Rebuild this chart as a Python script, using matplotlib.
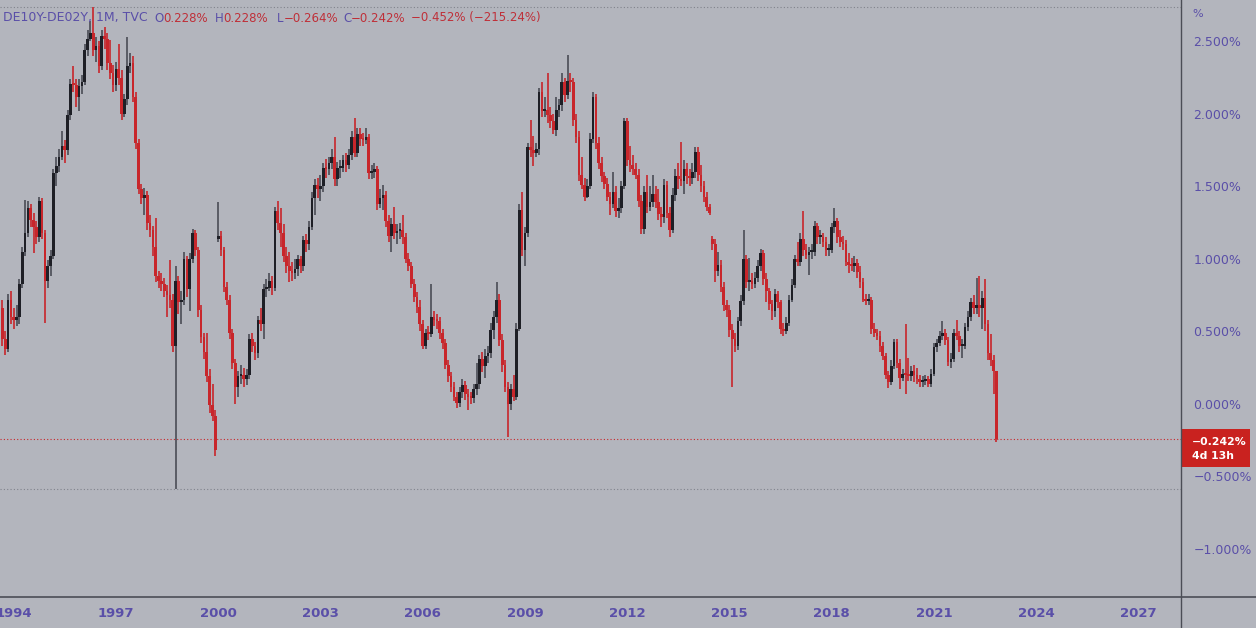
import numpy as np
import matplotlib
matplotlib.use("Agg")
import matplotlib.pyplot as plt
from matplotlib.patches import Rectangle
from matplotlib.lines import Line2D

# monthly candles, DE10Y-DE02Y spread in %, Sep 1993 .. Nov 2022
first_month = (1993, 9)
first_open = 0.66

closes = [
    0.45, 0.38, 0.72, 0.60,  # 1993 Sep-Dec
    0.58, 0.60, 0.83, 1.05, 1.18, 1.35, 1.27, 1.22, 1.15, 1.40, 1.18, 0.85,  # 1994
    0.95, 1.02, 1.59, 1.64, 1.70, 1.78, 1.75, 1.99, 2.21, 2.20, 2.12, 2.19,  # 1995
    2.22, 2.44, 2.52, 2.56, 2.44, 2.47, 2.33, 2.54, 2.52, 2.35, 2.28, 2.20,  # 1996
    2.31, 2.25, 2.00, 2.10, 2.33, 2.35, 2.12, 1.80, 1.48, 1.42, 1.44, 1.25,  # 1997
    1.20, 1.08, 0.88, 0.85, 0.83, 0.78, 0.75, 0.72, 0.40, 0.85, 0.70, 0.72,  # 1998
    1.00, 0.79, 1.00, 1.18, 1.06, 0.65, 0.46, 0.36, 0.19, -0.01, -0.08, -0.32,  # 1999
    1.16, 1.06, 0.81, 0.72, 0.49, 0.28, 0.12, 0.19, 0.20, 0.17, 0.20, 0.45,  # 2000
    0.40, 0.35, 0.58, 0.55, 0.79, 0.80, 0.85, 0.80, 1.33, 1.25, 1.18, 1.02,  # 2001
    0.95, 0.92, 0.90, 0.93, 1.00, 0.95, 1.13, 1.10, 1.22, 1.42, 1.51, 1.48,  # 2002
    1.50, 1.63, 1.62, 1.66, 1.70, 1.55, 1.63, 1.63, 1.68, 1.65, 1.72, 1.84,  # 2003
    1.73, 1.86, 1.83, 1.82, 1.84, 1.59, 1.60, 1.62, 1.38, 1.42, 1.44, 1.26,  # 2004
    1.16, 1.24, 1.18, 1.19, 1.20, 1.15, 1.00, 0.95, 0.83, 0.74, 0.67, 0.55,  # 2005
    0.40, 0.49, 0.48, 0.60, 0.58, 0.57, 0.49, 0.42, 0.27, 0.19, 0.12, 0.05,  # 2006
    0.01, 0.08, 0.13, 0.07, 0.05, 0.04, 0.10, 0.14, 0.31, 0.26, 0.33, 0.35,  # 2007
    0.51, 0.60, 0.72, 0.44, 0.27, 0.12, 0.00, 0.10, 0.05, 0.52, 1.34, 1.06,  # 2008
    1.18, 1.77, 1.75, 1.73, 1.76, 2.15, 2.02, 2.03, 1.99, 1.95, 1.89, 2.03,  # 2009
    2.06, 2.22, 2.13, 2.23, 2.22, 1.96, 1.84, 1.58, 1.51, 1.43, 1.50, 1.83,  # 2010
    2.12, 1.80, 1.66, 1.57, 1.52, 1.43, 1.38, 1.46, 1.33, 1.35, 1.50, 1.95,  # 2011
    1.68, 1.65, 1.62, 1.58, 1.40, 1.21, 1.46, 1.36, 1.39, 1.45, 1.39, 1.31,  # 2012
    1.29, 1.51, 1.32, 1.20, 1.44, 1.57, 1.55, 1.54, 1.62, 1.57, 1.56, 1.60,  # 2013
    1.74, 1.58, 1.50, 1.43, 1.36, 1.32, 1.10, 0.92, 0.96, 0.81, 0.68, 0.65,  # 2014
    0.51, 0.45, 0.40, 0.57, 0.71, 1.00, 0.84, 0.85, 0.83, 0.87, 0.95, 1.04,  # 2015
    0.86, 0.78, 0.69, 0.64, 0.76, 0.70, 0.52, 0.50, 0.56, 0.72, 0.82, 1.00,  # 2016
    0.98, 1.14, 1.06, 1.03, 1.05, 1.05, 1.23, 1.15, 1.15, 1.12, 1.06, 1.06,  # 2017
    1.22, 1.26, 1.15, 1.12, 1.10, 0.98, 0.96, 0.95, 0.97, 0.91, 0.84, 0.72,  # 2018
    0.71, 0.72, 0.52, 0.49, 0.47, 0.40, 0.33, 0.20, 0.15, 0.26, 0.43, 0.28,  # 2019
    0.18, 0.21, 0.20, 0.19, 0.23, 0.20, 0.17, 0.15, 0.16, 0.17, 0.14, 0.21,  # 2020
    0.39, 0.42, 0.47, 0.49, 0.44, 0.29, 0.31, 0.49, 0.47, 0.40, 0.40, 0.53,  # 2021
    0.60, 0.70, 0.66, 0.68, 0.66, 0.73, 0.55, 0.35, 0.30, 0.228, -0.242,  # 2022
]

highs = [
    0.72, 0.50, 0.76, 0.78,
    0.66, 0.68, 0.86, 1.08, 1.41, 1.40, 1.38, 1.32, 1.26, 1.43, 1.42, 1.20,
    0.99, 1.06, 1.62, 1.70, 1.76, 1.88, 1.82, 2.03, 2.24, 2.33, 2.24, 2.24,
    2.27, 2.48, 2.58, 2.64, 2.74, 2.53, 2.50, 2.58, 2.60, 2.56, 2.51, 2.34,
    2.36, 2.48, 2.30, 2.14, 2.53, 2.42, 2.40, 2.15, 1.83, 1.52, 1.49, 1.47,
    1.30, 1.23, 1.28, 0.92, 0.90, 0.87, 0.82, 0.99, 0.76, 0.95, 0.88, 0.78,
    1.05, 1.02, 1.04, 1.21, 1.20, 1.08, 0.68, 0.49, 0.49, 0.24, 0.14, -0.04,
    1.39, 1.19, 1.08, 0.84, 0.75, 0.52, 0.31, 0.23, 0.27, 0.25, 0.24, 0.48,
    0.49, 0.43, 0.61, 0.66, 0.83, 0.86, 0.90, 0.88, 1.36, 1.40, 1.35, 1.24,
    1.08, 1.05, 0.98, 1.00, 1.03, 1.02, 1.16, 1.17, 1.26, 1.46, 1.55, 1.56,
    1.58, 1.66, 1.69, 1.70, 1.76, 1.84, 1.67, 1.68, 1.72, 1.73, 1.76, 1.88,
    1.97, 1.90, 1.90, 1.87, 1.90, 1.86, 1.65, 1.66, 1.64, 1.48, 1.51, 1.47,
    1.30, 1.28, 1.36, 1.24, 1.25, 1.30, 1.18, 1.04, 0.98, 0.86, 0.77, 0.72,
    0.58, 0.52, 0.54, 0.83, 0.64, 0.62, 0.60, 0.52, 0.45, 0.30, 0.22, 0.15,
    0.08, 0.12, 0.17, 0.16, 0.10, 0.08, 0.14, 0.28, 0.34, 0.36, 0.38, 0.40,
    0.56, 0.64, 0.84, 0.76, 0.48, 0.30, 0.15, 0.14, 0.20, 0.56, 1.38, 1.46,
    1.22, 1.80, 1.96, 1.85, 1.80, 2.18, 2.22, 2.12, 2.28, 2.05, 2.00, 2.12,
    2.10, 2.28, 2.25, 2.41, 2.28, 2.25, 2.00, 1.88, 1.70, 1.56, 1.55, 1.87,
    2.15, 2.14, 1.84, 1.70, 1.60, 1.56, 1.46, 1.60, 1.50, 1.42, 1.54, 1.97,
    1.97, 1.78, 1.72, 1.66, 1.62, 1.44, 1.50, 1.58, 1.50, 1.58, 1.50, 1.48,
    1.36, 1.55, 1.54, 1.36, 1.49, 1.62, 1.66, 1.81, 1.68, 1.66, 1.62, 1.66,
    1.77, 1.77, 1.65, 1.54, 1.46, 1.38, 1.16, 1.14, 1.05, 0.99, 0.84, 0.72,
    0.68, 0.55, 0.49, 0.60, 0.75, 1.20, 1.03, 1.01, 0.90, 0.91, 0.99, 1.07,
    1.06, 0.90, 0.80, 0.72, 0.79, 0.78, 0.72, 0.56, 0.60, 0.75, 0.86, 1.03,
    1.12, 1.18, 1.33, 1.10, 1.08, 1.10, 1.26, 1.25, 1.20, 1.18, 1.15, 1.10,
    1.25, 1.35, 1.28, 1.20, 1.16, 1.13, 1.04, 1.01, 1.02, 1.00, 0.95, 0.87,
    0.76, 0.76, 0.74, 0.56, 0.52, 0.50, 0.43, 0.35, 0.23, 0.30, 0.45, 0.45,
    0.31, 0.24, 0.55, 0.32, 0.26, 0.27, 0.25, 0.20, 0.19, 0.20, 0.19, 0.24,
    0.42, 0.45, 0.50, 0.57, 0.52, 0.46, 0.35, 0.52, 0.58, 0.50, 0.45, 0.56,
    0.64, 0.73, 0.75, 0.87, 0.88, 0.78, 0.86, 0.58, 0.48, 0.34, 0.228,
]

lows = [
    0.40, 0.34, 0.36, 0.55,
    0.52, 0.54, 0.55, 0.80, 1.02, 1.15, 1.22, 1.04, 1.10, 1.12, 1.14, 0.56,
    0.80, 0.88, 1.00, 1.50, 1.60, 1.68, 1.66, 1.72, 1.96, 2.15, 2.05, 2.02,
    2.14, 2.20, 2.40, 2.50, 2.40, 2.36, 2.28, 2.30, 2.45, 2.30, 2.24, 2.15,
    2.16, 2.20, 1.96, 1.98, 2.06, 2.28, 2.08, 1.76, 1.45, 1.38, 1.30, 1.20,
    1.15, 1.02, 0.84, 0.80, 0.78, 0.74, 0.60, 0.66, 0.36, -0.585, 0.62, 0.55,
    0.68, 0.74, 0.64, 0.97, 1.02, 0.60, 0.42, 0.31, 0.15, -0.06, -0.12, -0.36,
    1.12, 1.02, 0.77, 0.68, 0.45, 0.24, 0.00, 0.05, 0.14, 0.12, 0.13, 0.17,
    0.36, 0.30, 0.32, 0.50, 0.45, 0.74, 0.78, 0.75, 0.78, 1.20, 1.08, 0.98,
    0.90, 0.84, 0.85, 0.86, 0.88, 0.90, 0.92, 1.05, 1.06, 1.20, 1.30, 1.42,
    1.40, 1.46, 1.56, 1.58, 1.62, 1.50, 1.50, 1.56, 1.60, 1.60, 1.62, 1.68,
    1.70, 1.70, 1.78, 1.78, 1.79, 1.55, 1.55, 1.56, 1.34, 1.35, 1.34, 1.22,
    1.12, 1.05, 1.14, 1.10, 1.14, 1.10, 0.97, 0.92, 0.80, 0.70, 0.63, 0.50,
    0.38, 0.38, 0.44, 0.46, 0.54, 0.52, 0.45, 0.38, 0.24, 0.15, 0.08, 0.02,
    -0.03, -0.02, 0.04, 0.03, -0.04, 0.00, 0.01, 0.06, 0.10, 0.22, 0.18, 0.28,
    0.32, 0.45, 0.56, 0.40, 0.22, 0.08, -0.23, -0.04, 0.02, 0.03, 0.50, 1.02,
    0.95, 1.15, 1.70, 1.64, 1.70, 1.72, 1.98, 1.98, 1.94, 1.90, 1.86, 1.85,
    1.98, 2.02, 2.08, 2.10, 2.15, 1.92, 1.80, 1.54, 1.48, 1.40, 1.42, 1.48,
    1.80, 1.76, 1.62, 1.53, 1.48, 1.40, 1.30, 1.35, 1.29, 1.28, 1.32, 1.48,
    1.64, 1.60, 1.58, 1.55, 1.36, 1.17, 1.17, 1.32, 1.33, 1.36, 1.35, 1.27,
    1.22, 1.25, 1.28, 1.15, 1.18, 1.40, 1.48, 1.50, 1.45, 1.52, 1.50, 1.52,
    1.56, 1.54, 1.46, 1.39, 1.33, 1.30, 1.06, 0.84, 0.88, 0.77, 0.64, 0.60,
    0.46, 0.12, 0.36, 0.37, 0.54, 0.68, 0.80, 0.78, 0.79, 0.80, 0.84, 0.92,
    0.82, 0.70, 0.65, 0.58, 0.60, 0.66, 0.48, 0.47, 0.48, 0.54, 0.70, 0.80,
    0.95, 0.95, 1.02, 1.00, 0.89, 1.00, 1.02, 1.10, 1.10, 1.08, 1.02, 1.02,
    1.04, 1.18, 1.11, 1.08, 1.06, 0.95, 0.90, 0.92, 0.91, 0.87, 0.80, 0.70,
    0.68, 0.68, 0.48, 0.46, 0.44, 0.36, 0.30, 0.17, 0.11, 0.13, 0.24, 0.25,
    0.10, 0.16, 0.07, 0.16, 0.16, 0.15, 0.14, 0.12, 0.12, 0.13, 0.12, 0.12,
    0.19, 0.36, 0.40, 0.44, 0.41, 0.26, 0.25, 0.29, 0.44, 0.36, 0.32, 0.38,
    0.50, 0.57, 0.62, 0.62, 0.60, 0.52, 0.50, 0.30, 0.26, 0.07, -0.264,
]

# months where the series re-opens away from the previous close
gap_opens = {(2000, 1): 1.14, (2014, 7): 1.14}

year_ticks = [1994, 1997, 2000, 2003, 2006, 2009, 2012, 2015, 2018, 2021, 2024, 2027]
price_ticks = [2.5, 2.0, 1.5, 1.0, 0.5, 0.0, -0.5, -1.0]

symbol = "DE10Y-DE02Y, 1M, TVC"
legend_vals = [("O", "0.228%"), ("H", "0.228%"), ("L", "\u22120.264%"), ("C", "\u22120.242%")]
change_txt = "\u22120.452% (\u2212215.24%)"
countdown = "4d 13h"

BG = "#b3b5bd"
UP = "#1e1f26"
UP_WICK = "#4a4c55"
DOWN = "#c8262b"
PURPLE = "#5a4fa8"
RED_TXT = "#bf2f38"

n = len(closes)
closes = np.array(closes)
highs = np.array(highs)
lows = np.array(lows)
y0, mo0 = first_month
months = [(y0 + (mo0 - 1 + i) // 12, (mo0 - 1 + i) % 12 + 1) for i in range(n)]
xs = np.array([y + (m - 1) / 12 for y, m in months])
opens = np.concatenate([[first_open], closes[:-1]])
for i, ym in enumerate(months):
    if ym in gap_opens:
        opens[i] = gap_opens[ym]
highs = np.maximum(highs, np.maximum(opens, closes))
lows = np.minimum(lows, np.minimum(opens, closes))
up = closes >= opens

W, H = 1256, 628
fig = plt.figure(figsize=(W / 100, H / 100), dpi=100, facecolor=BG)
ax = fig.add_axes([0, 31 / H, 1181 / W, 597 / H])
ax.set_facecolor(BG)

wick_cols = np.where(up, UP_WICK, DOWN)
ax.vlines(xs, lows, highs, colors=wick_cols, linewidth=1.2, zorder=2)
body_bot = np.minimum(opens, closes)
body_h = np.maximum(np.abs(closes - opens), 0.014)
ax.bar(xs, body_h, bottom=body_bot, width=0.95 / 12,
       color=np.where(up, UP, DOWN), linewidth=0, zorder=3)

# dotted reference lines
ax.axhline(highs.max(), color="#80828b", lw=0.8, ls=(0, (1, 2)), zorder=1)
ax.axhline(lows.min(), color="#80828b", lw=0.8, ls=(0, (1, 2)), zorder=1)
ax.axhline(closes[-1], color="#c8262b", lw=0.8, ls=(0, (1, 2)), zorder=1)

ax.set_xlim(1994 - 4.82 / 12, 1994 + 411.0 / 12)
ax.set_ylim(-1.331, 2.786)

ax.set_xticks(year_ticks)
ax.set_xticklabels([str(y) for y in year_ticks], fontweight="bold",
                   fontsize=9.5, color=PURPLE)
ax.yaxis.tick_right()
ax.set_yticks(price_ticks)
ax.set_yticklabels([f"{v:.3f}%".replace("-", "\u2212") for v in price_ticks],
                   fontsize=9, color=PURPLE)
ax.tick_params(axis="x", length=0, pad=7)
ax.tick_params(axis="y", length=0, pad=9)
for s in ax.spines.values():
    s.set_visible(False)

# panel separators
fig.add_artist(Line2D([0, 1], [1 - 597 / H] * 2, color="#4b4d56", lw=1.2))
fig.add_artist(Line2D([1181 / W] * 2, [0, 1], color="#4b4d56", lw=1.0))

# legend line, pieces chained left to right
renderer = fig.canvas.get_renderer()


def ftext(px, py, s, color, size=9):
    t = fig.text(px / W, 1 - py / H, s, color=color, va="center", ha="left",
                 fontsize=size)
    bb = t.get_window_extent(renderer=renderer)
    return bb.x1


group_x = [154, 215, 277, 343]
ftext(3, 18, symbol, PURPLE)
for (letter, val), px in zip(legend_vals, group_x):
    end = ftext(px, 18, letter, PURPLE, 8.5)
    ftext(end, 18, val, RED_TXT, 8.5)
ftext(411, 18, change_txt, RED_TXT, 8.5)

# price scale extras
fig.text(1192 / W, 1 - 14 / H, "%", color=PURPLE, fontsize=8, va="center")
fig.add_artist(Rectangle((1181 / W, 1 - 467 / H), 69 / W, 38 / H,
                         transform=fig.transFigure, color="#c9221f", lw=0))
fig.text(1192 / W, 1 - 442 / H, f"{closes[-1]:.3f}%".replace("-", "\u2212"),
         color="white", fontsize=7.8, fontweight="bold", va="center")
fig.text(1192 / W, 1 - 456 / H, countdown, color="white", fontsize=7.8,
         fontweight="bold", va="center")

fig.savefig("out.png", dpi=100, facecolor=BG)
